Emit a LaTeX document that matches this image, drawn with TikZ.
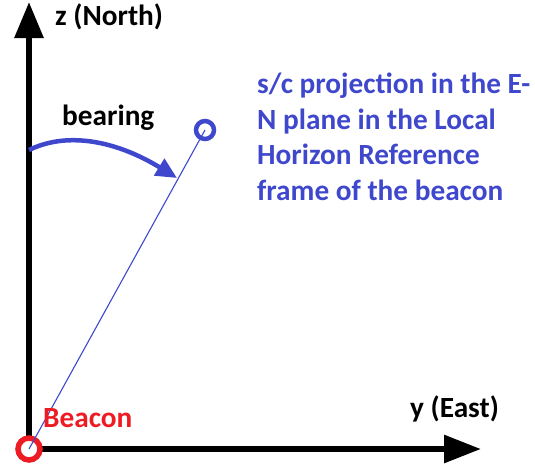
\documentclass[tikz,border=0pt]{standalone}
\usepackage{fontspec}
\setmainfont{Carlito}
\usepackage{tikz}
\usetikzlibrary{arrows.meta,positioning}
\definecolor{paintblue}{RGB}{63,72,204}
\definecolor{paintred}{RGB}{237,28,36}
\tikzset{
  axarr/.style={{Triangle[length=36pt,width=28pt]}-{Triangle[length=37pt,width=27pt]},line width=6pt,draw=black,line join=miter},
  bearr/.style={-{Triangle[length=21pt,width=19pt]},line width=4.5pt,draw=paintblue},
  projline/.style={line width=1.1pt,draw=paintblue},
  ring/.style={circle,draw,fill=white,inner sep=0pt},
  bigtext/.style={inner sep=0pt,font=\fontsize{29.3}{35.5}\selectfont\bfseries},
  lbl/.style={bigtext,anchor=base west}
}

\begin{document}
\begin{tikzpicture}[x=1pt,y=-1pt]
  \useasboundingbox (0,0) rectangle (535,469);
  \coordinate (origin) at (29,449);
  \coordinate (ztip) at (29,2);
  \coordinate (ytip) at (481,449);
  \coordinate (bstart) at (29,150);
  \coordinate (bend) at (177,178);
  \draw[axarr] (ztip) -- (origin) -- (ytip);
  \node[ring,draw=paintred,line width=5.5pt,minimum size=22pt] (beacon) at (origin) {};
  \node[ring,draw=paintblue,line width=4.5pt,minimum size=18pt] (sc) at (205,130) {};
  \draw[projline] (beacon.center) -- (sc.center);
  \draw[bearr] (bstart) .. controls (70,130) and (120,143) .. (bend);
  \node[lbl] (zlabel) at (55,25) {z (North)};
  \node[lbl] (ylabel) at (410,417) {y (East)};
  \node[lbl] (bearing) at (62,125) {bearing};
  \node[lbl,text=paintred] (beaconlabel) at (43,427) {Beacon};
  \node[bigtext,anchor=north west,align=left,text=paintblue] (sclabel) at (257,73)
    {s/c projection in the E-\\N plane in the Local\\Horizon Reference\\frame of the beacon};
\end{tikzpicture}
\end{document}
